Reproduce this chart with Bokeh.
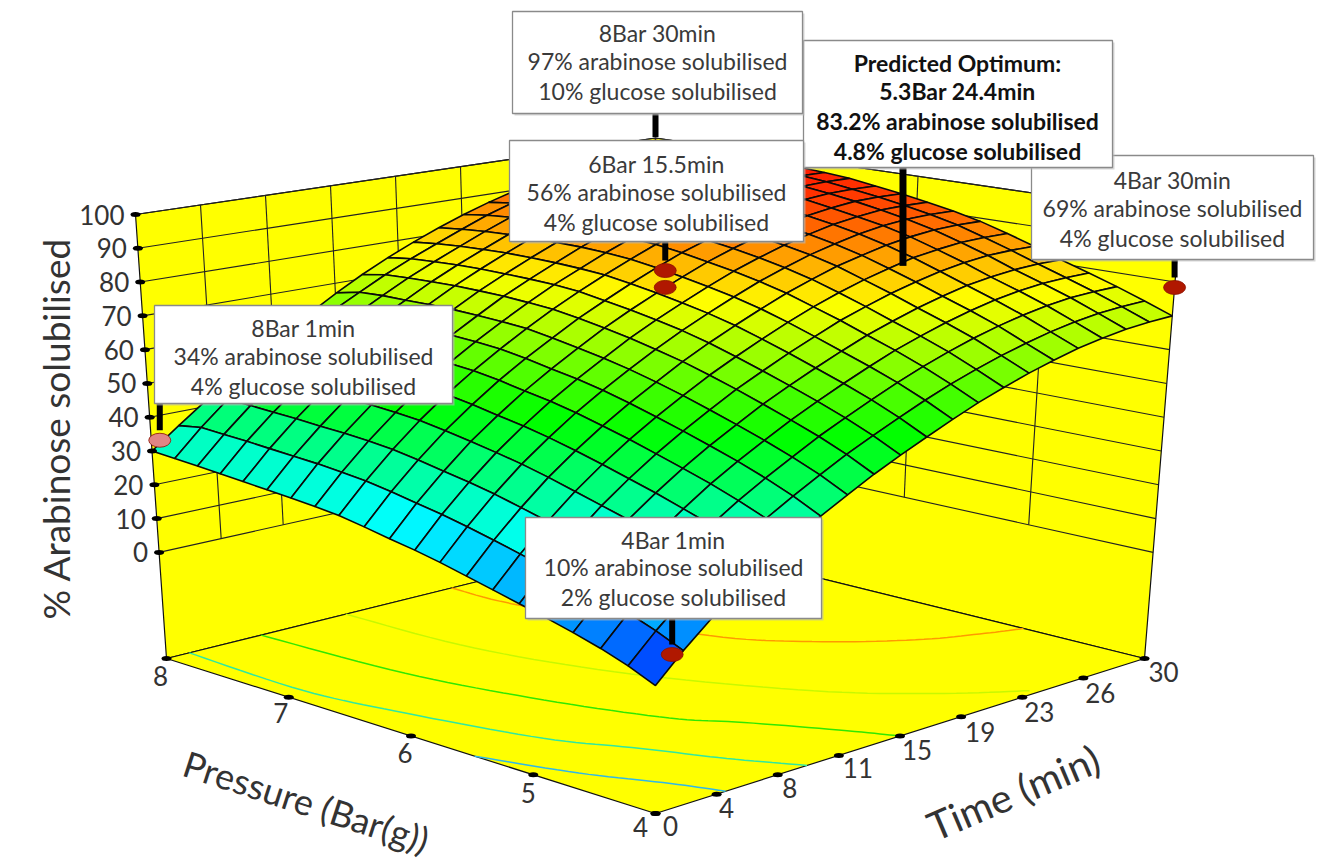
from bokeh.plotting import figure
from bokeh.models import Range1d
from bokeh.core.properties import value
from bokeh.embed import file_html
from bokeh.resources import INLINE
import numpy as np
import math

# ---------- data ----------
pressure_ticks = [8, 7, 6, 5, 4]
time_ticks = [0, 3.75, 7.5, 11.25, 15, 18.75, 22.5, 26.25, 30]
time_tick_labels = ["0", "4", "8", "11", "15", "19", "23", "26", "30"]
z_ticks = [0, 10, 20, 30, 40, 50, 60, 70, 80, 90, 100]
z_floor = -31.4

pressure_grid = [4, 4.22, 4.44, 4.66, 4.88, 5.09, 5.30, 5.51, 5.72, 5.92, 6.12,
                 6.32, 6.52, 6.71, 6.90, 7.09, 7.28, 7.46, 7.64, 7.82, 8]
time_grid = [0, 1.67, 3.32, 4.96, 6.58, 8.18, 9.76, 11.32, 12.86, 14.39, 15.9,
             17.39, 18.86, 20.32, 21.76, 23.18, 24.58, 25.96, 27.32, 28.67, 30]

# arabinose % : one row per pressure_grid value, one column per time_grid value
arabinose = [
 [3.2,10.5,17,23,28.2,33,37.3,41.3,45.2,48.7,52,55.2,58.2,60.8,63.2,65.2,67,68.3,69.3,69.8,70],
 [6.4,13.8,20.4,26.5,31.8,36.7,41,45.1,49,52.5,55.8,59,61.9,64.4,66.7,68.6,70.3,71.6,72.5,72.9,73],
 [9,16.6,23.3,29.5,34.9,39.8,44.2,48.3,52.3,55.8,59.2,62.4,65.3,67.9,70.2,72.1,73.7,74.9,75.7,75.9,75.9],
 [11.2,18.9,25.7,32,37.5,42.6,47.1,51.2,55.2,58.8,62.2,65.4,68.4,70.9,73.2,75.1,76.7,77.8,78.5,78.7,78.6],
 [13.2,21,28,34.4,40,45.1,49.7,53.9,58,61.6,65,68.2,71.2,73.7,76,77.9,79.5,80.5,81.2,81.4,81.2],
 [15,22.9,30,36.5,42.2,47.4,52.1,56.4,60.6,64.2,67.7,70.9,74,76.5,78.8,80.7,82.3,83.4,84.1,84.2,84],
 [16.8,24.8,32,38.6,44.4,49.7,54.4,58.8,63,66.7,70.2,73.5,76.5,79.1,81.4,83.3,85,86,86.7,86.8,86.6],
 [18.6,26.7,34,40.7,46.5,51.8,56.6,61,65.3,69.1,72.6,75.9,79,81.6,84,85.8,87.4,88.5,89.2,89.3,89],
 [20.4,28.5,35.9,42.6,48.4,53.8,58.6,63,67.2,71.1,74.6,77.9,81,83.6,86,87.8,89.4,90.5,91.1,91.2,90.9],
 [21.9,30.1,37.4,44.1,50,55.4,60.2,64.6,68.9,72.7,76.2,79.5,82.6,85.2,87.5,89.4,91,92,92.7,92.7,92.4],
 [23.2,31.4,38.7,45.5,51.3,56.7,61.5,66,70.3,74.1,77.6,80.9,84,86.6,88.9,90.8,92.4,93.4,94.1,94.1,93.8],
 [24.6,32.8,40.1,46.8,52.7,58.1,62.9,67.3,71.6,75.3,78.9,82.2,85.3,87.8,90.2,92,93.6,94.7,95.3,95.3,95],
 [25.9,34,41.3,48,53.9,59.2,64,68.5,72.7,76.5,80,83.3,86.4,89,91.3,93.1,94.7,95.7,96.3,96.4,96.2],
 [26.6,34.7,42,48.6,54.5,59.8,64.6,69,73.2,77.1,80.5,83.9,86.9,89.5,91.9,93.7,95.3,96.3,97,97.1,96.9],
 [27.2,35.3,42.5,49.1,54.9,60.2,64.9,69.3,73.6,77.3,80.8,84.2,87.2,89.8,92.1,94.1,95.6,96.7,97.4,97.6,97.4],
 [27.7,35.7,42.8,49.4,55.2,60.4,65.1,69.5,73.7,77.4,80.9,84.2,87.3,89.9,92.4,94.2,95.9,97.1,97.8,98,97.8],
 [28.2,36.1,43.2,49.7,55.3,60.5,65.2,69.5,73.7,77.4,80.9,84.2,87.3,90,92.4,94.4,96.2,97.4,98.2,98.3,98],
 [28.7,36.5,43.4,49.8,55.4,60.5,65.1,69.3,73.5,77.2,80.6,83.9,87,89.6,92,94,95.8,97,97.9,98.2,98],
 [29.2,36.8,43.7,50,55.4,60.5,65,69.2,73.2,76.8,80.2,83.5,86.6,89.2,91.6,93.6,95.4,96.6,97.4,97.8,97.8],
 [29.6,37.1,43.8,49.9,55.2,60.2,64.6,68.7,72.7,76.3,79.6,82.8,85.9,88.5,90.9,92.8,94.6,95.8,96.8,97.2,97.4],
 [30,35.9,41.6,47.1,52.4,57.5,62.4,67,71.3,75.2,78.7,81.9,84.8,87.4,89.7,91.7,93.4,94.8,95.9,96.6,97],
]

# floor contours: (pressure, time)
contour_colors = ["#FF9A00", "#C8F800", "#30E800", "#30E8A0", "#30B8E8"]
contour_pressure = [
 [8, 7.44, 6.24, 5.72, 5.3, 5.09, 4.99],
 [8, 7, 6, 5, 4.44, 4.06],
 [8, 6.9, 5.98, 5.22, 4.85, 4.3, 4],
 [8, 7.04, 6.33, 5.45, 4.92, 4.43, 4],
 [5.48, 4.84, 4.33, 4],
]
contour_time = [
 [17.5, 17.7, 20.1, 22.5, 25.7, 28.4, 30],
 [11, 11.4, 13.5, 17.2, 20.4, 23.4],
 [5.8, 6.4, 8, 10, 11.8, 14, 15],
 [1.4, 1.2, 2.2, 4, 6, 7.6, 9.3],
 [0, 1.6, 3.4, 4.3],
]

# design points drawn on the surface
marker_pressure = [8, 4, 8, 6, 6, 4]
marker_time = [30, 30, 0.5, 15.5, 15.5, 1]
marker_height = [97, 78.4, 32.7, 85.6, 80.6, 10.3]
marker_colors = ["#B01800", "#B01800", "#E08585", "#B01800", "#B01800", "#B01800"]
optimum_pressure, optimum_time, optimum_height = 5.3, 24.0, 83.2

box_titles = [
 ["4Bar 30min", "69% arabinose solubilised", "4% glucose solubilised"],
 ["8Bar 30min", "97% arabinose solubilised", "10% glucose solubilised"],
 ["6Bar 15.5min", "56% arabinose solubilised", "4% glucose solubilised"],
 ["8Bar 1min", "34% arabinose solubilised", "4% glucose solubilised"],
 ["4Bar 1min", "10% arabinose solubilised", "2% glucose solubilised"],
]
optimum_lines = ["Predicted Optimum:", "5.3Bar 24.4min", "83.2% arabinose solubilised", "4.8% glucose solubilised"]

# ---------- layout (page pixels) ----------
W, H = 1317, 867
FONT = "Lato"
FLOOR = dict(front=(655, 813), left=(166, 658), right=(1144, 658), back=(655, 537))
TOP = dict(front=(655, 327), left=(135, 214), right=(1180, 214), back=(655, 137.5))


def bil(c, u, v):
    x = c["front"][0]*(1-u)*(1-v) + c["left"][0]*u*(1-v) + c["right"][0]*(1-u)*v + c["back"][0]*u*v
    y = c["front"][1]*(1-u)*(1-v) + c["left"][1]*u*(1-v) + c["right"][1]*(1-u)*v + c["back"][1]*u*v
    return x, y


def proj(P, T, z):
    u, v = (P-4)/4.0, T/30.0
    w = (z-z_floor)/(100-z_floor)
    x0, y0 = bil(FLOOR, u, v)
    x1, y1 = bil(TOP, u, v)
    return x0+(x1-x0)*w, y0+(y1-y0)*w


def colour(z):
    s = [0, 27.5, 52, 77, 100]
    r = np.interp(z, s, [0, 0, 0, 255, 255])
    g = np.interp(z, s, [0, 255, 255, 255, 0])
    b = np.interp(z, s, [255, 255, 0, 0, 0])
    return "#%02X%02X%02X" % (int(r), int(g), int(b))


def smooth(q):
    """Draw a read polyline as a rounded curve (Catmull-Rom) on the page."""
    pts = [q[0]] + list(q) + [q[-1]]
    xs, ys = [], []
    for a, b, c, d in zip(pts, pts[1:], pts[2:], pts[3:]):
        for t in np.linspace(0, 1, 10, endpoint=False):
            for out, n in ((xs, 0), (ys, 1)):
                out.append(0.5*(2*b[n] + (c[n]-a[n])*t + (2*a[n]-5*b[n]+4*c[n]-d[n])*t*t
                                + (3*b[n]-a[n]-3*c[n]+d[n])*t*t*t))
    xs.append(q[-1][0]); ys.append(q[-1][1])
    return xs, ys


p = figure(width=W, height=H, x_range=Range1d(0, W), y_range=Range1d(H, 0),
           output_backend="svg", toolbar_location=None, min_border=0,
           x_axis_type=None, y_axis_type=None, outline_line_color=None,
           background_fill_color="white", border_fill_color="white")
p.grid.visible = False

YEL = "#FFFF00"
# walls and floor
for pts in (
    [(8, 0, z_floor), (8, 30, z_floor), (8, 30, 100), (8, 0, 100)],
    [(4, 30, z_floor), (8, 30, z_floor), (8, 30, 100), (4, 30, 100)],
    [(4, 0, z_floor), (8, 0, z_floor), (8, 30, z_floor), (4, 30, z_floor)],
):
    q = [proj(*a) for a in pts]
    p.patch([a[0] for a in q], [a[1] for a in q], fill_color=YEL, line_color="#111111", line_width=1.2)

# wall grid
xs, ys = [], []
for z in z_ticks:
    a, b, c = proj(8, 0, z), proj(8, 30, z), proj(4, 30, z)
    xs.append([a[0], b[0], c[0]]); ys.append([a[1], b[1], c[1]])
for t in time_ticks[1:-1]:
    a, b = proj(8, t, 0), proj(8, t, 100)
    xs.append([a[0], b[0]]); ys.append([a[1], b[1]])
for pr in pressure_ticks[1:-1]:
    a, b = proj(pr, 30, 0), proj(pr, 30, 100)
    xs.append([a[0], b[0]]); ys.append([a[1], b[1]])
a, b = proj(8, 30, 0), proj(8, 30, 100)
xs.append([a[0], b[0]]); ys.append([a[1], b[1]])
p.multi_line(xs, ys, line_color="#222222", line_width=1.1)

# floor contours
for col, ps, ts in zip(contour_colors, contour_pressure, contour_time):
    lx, ly = smooth([proj(a, b, z_floor) for a, b in zip(ps, ts)])
    p.line(lx, ly, line_color=col, line_width=1.5)

# surface, painted from the back
cx, cy, cc = [], [], []
for m in range(19, -1, -1):
    for i in range(19, -1, -1):
        idx = [(m, i), (m+1, i), (m+1, i+1), (m, i+1)]
        q = [proj(pressure_grid[a], time_grid[b], arabinose[a][b]) for a, b in idx]
        cx.append([a[0] for a in q]); cy.append([a[1] for a in q])
        cc.append(colour(sum(arabinose[a][b] for a, b in idx)/4))
p.patches(cx, cy, fill_color=cc, line_color="#0A0A0A", line_width=1.6)

# axis tick dots
dots = [proj(8, 0, z) for z in z_ticks] + [proj(a, 0, z_floor) for a in pressure_ticks] + \
       [proj(4, t, z_floor) for t in time_ticks]
p.ellipse([d[0] for d in dots], [d[1] for d in dots], width=10, height=5, fill_color="black", line_color=None)

# boxes: left, right, top, bottom in page pixels
box_left = [1031, 512, 509, 154, 525]
box_right = [1313, 802, 803, 452, 821]
box_top = [155, 11, 140, 305, 517]
box_bottom = [259, 113, 241, 403, 618]
box_lines_y = [[179.5, 207.5, 237.5], [32.5, 60.5, 90.5], [163.5, 191.5, 221.5], [327.5, 355.5, 385.5], [539.5, 566.5, 596.5]]

# sticks and markers
stick_box = [1, 0, 3, 2, 2, 4]
for k in range(len(marker_height)):
    mx, my = proj(marker_pressure[k], marker_time[k], marker_height[k])
    b = stick_box[k]
    if k == 4:
        continue
    p.segment([mx], [box_bottom[b]-2], [mx], [my-10], line_color="black", line_width=6)
mxy = [proj(a, b, c) for a, b, c in zip(marker_pressure, marker_time, marker_height)]
p.ellipse([m[0] for m in mxy], [m[1] for m in mxy], width=22, height=14,
          fill_color=marker_colors, line_color="#8A1000", line_width=0.8)
ox, oy = proj(optimum_pressure, optimum_time, optimum_height)
p.segment([ox], [165], [ox], [oy], line_color="black", line_width=7)


def draw_box(l, r, t, b):
    p.quad(left=[l+2], right=[r+2], top=[t+2], bottom=[b+2], fill_color="#BBBBBB", line_color=None, fill_alpha=0.6)
    p.quad(left=[l], right=[r], top=[t], bottom=[b], fill_color="white", line_color="#8A8A8A", line_width=1.3)


TS = "23px"
for k in range(5):
    draw_box(box_left[k], box_right[k], box_top[k], box_bottom[k])
    c = (box_left[k]+box_right[k])/2
    p.text([c]*3, box_lines_y[k], text=box_titles[k], text_font=value(FONT), text_font_size=TS,
           text_color="#3A3A3A", text_align="center", text_baseline="middle")
    if k == 0:
        draw_box(803, 1112, 40, 167)
        p.text([957]*4, [62.5, 90.5, 120.5, 150.5], text=optimum_lines, text_font=value(FONT), text_font_size="23px",
               text_font_style="bold", text_color="#111111", text_align="center", text_baseline="middle")

# tick labels
AX = "#333333"
ZS = "26px"
zl = [proj(8, 0, z) for z in z_ticks]
p.text([a[0]-11 for a in zl], [a[1] for a in zl], text=[str(z) for z in z_ticks], text_font=value(FONT),
       text_font_size=ZS, text_color=AX, text_align="right", text_baseline="middle")
pl = [proj(a, 0, z_floor) for a in pressure_ticks]
pdx = [-6, -8, -6, -5, -15]
pdy = [17, 16, 17, 18, 13]
p.text([a[0]+d for a, d in zip(pl, pdx)], [a[1]+d for a, d in zip(pl, pdy)], text=[str(a) for a in pressure_ticks],
       text_font=value(FONT), text_font_size=ZS, text_color=AX, text_align="center", text_baseline="middle")
tl = [proj(4, t, z_floor) for t in time_ticks]
tdx = [15, 10, 12, 19, 17, 19, 17, 17, 19]
tdy = [12, 14, 13, 13, 14, 15, 15, 15, 13]
p.text([a[0]+d for a, d in zip(tl, tdx)], [a[1]+d for a, d in zip(tl, tdy)], text=time_tick_labels,
       text_font=value(FONT), text_font_size=ZS, text_color=AX, text_align="center", text_baseline="middle")

# axis titles
p.text([55], [428], text=["% Arabinose solubilised"], angle=[math.pi/2], text_font=value(FONT),
       text_font_size="37px", text_color=AX, text_align="center", text_baseline="middle")
p.text([306], [801], text=["Pressure (Bar(g))"], angle=[math.radians(-18)], text_font=value(FONT),
       text_font_size="36px", text_color=AX, text_align="center", text_baseline="middle")
p.text([1013], [792], text=["Time (min)"], angle=[math.radians(23)], text_font=value(FONT),
       text_font_size="40px", text_color=AX, text_align="center", text_baseline="middle")

open("out.html", "w").write(file_html(p, INLINE))
